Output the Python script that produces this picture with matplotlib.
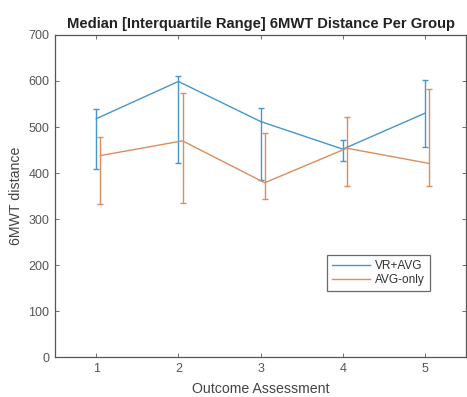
import matplotlib; matplotlib.use('Agg')
import matplotlib.pyplot as plt
from matplotlib.lines import Line2D
import numpy as np

# Outcome assessments
assess = np.array([1, 2, 3, 4, 5])

# VR+AVG: median and interquartile bounds
vr_med = [518, 599, 512, 452, 530]
vr_q1 = [409, 421, 386, 427, 456]
vr_q3 = [539, 610, 542, 471, 603]

# AVG-only: median and interquartile bounds
avg_med = [438, 470, 379, 454, 421]
avg_q1 = [332, 336, 343, 372, 372]
avg_q3 = [479, 573, 488, 522, 582]

plt.rcParams.update({
    'font.family': ['Liberation Sans', 'DejaVu Sans'],
    'xtick.direction': 'in', 'ytick.direction': 'in',
})

fig = plt.figure(figsize=(4.67, 3.97), dpi=100)
fig.patch.set_facecolor('white')
ax = fig.add_axes([0.118, 0.100, 0.880, 0.812])

c_blue = '#4597cc'
c_orange = '#da8d5e'

vr_err = [np.array(vr_med) - np.array(vr_q1), np.array(vr_q3) - np.array(vr_med)]
avg_err = [np.array(avg_med) - np.array(avg_q1), np.array(avg_q3) - np.array(avg_med)]

ax.errorbar(assess, vr_med, yerr=vr_err, color=c_blue, lw=1.0, elinewidth=1.0,
            capsize=2.5, capthick=1.0)
ax.errorbar(assess + 0.05, avg_med, yerr=avg_err, color=c_orange, lw=1.0, elinewidth=1.0,
            capsize=2.5, capthick=1.0)

ax.set_xlim(0.5, 5.5)
ax.set_ylim(0, 700)
ax.set_xticks(assess)
ax.set_yticks(np.arange(0, 701, 100))
ax.tick_params(axis='both', which='both', top=True, right=True, length=3,
               width=0.6, color='#555555', labelsize=9, labelcolor='#555555', pad=4)
for s in ax.spines.values():
    s.set_color('#555555')
    s.set_linewidth(0.9)

ax.set_title('Median [Interquartile Range] 6MWT Distance Per Group',
             fontsize=10.6, fontweight='bold', color='#222222', pad=5)
ax.set_xlabel('Outcome Assessment', fontsize=10.2, color='#444444', labelpad=5)
ax.set_ylabel('6MWT distance', fontsize=10.2, color='#444444', labelpad=4)

handles = [Line2D([], [], color=c_blue, lw=1.0),
           Line2D([], [], color=c_orange, lw=1.0)]
leg = ax.legend(handles, ['VR+AVG', 'AVG-only'], loc='lower right',
                bbox_to_anchor=(0.912, 0.206), borderaxespad=0, fontsize=8.6,
                frameon=True, fancybox=False, edgecolor='#444444',
                handlelength=3.2, borderpad=0.4, labelspacing=0.2,
                handletextpad=0.4)
leg.get_frame().set_linewidth(0.9)
for t in leg.get_texts():
    t.set_color('#333333')

fig.savefig('out.png', dpi=100, facecolor='white')
plt.close(fig)
